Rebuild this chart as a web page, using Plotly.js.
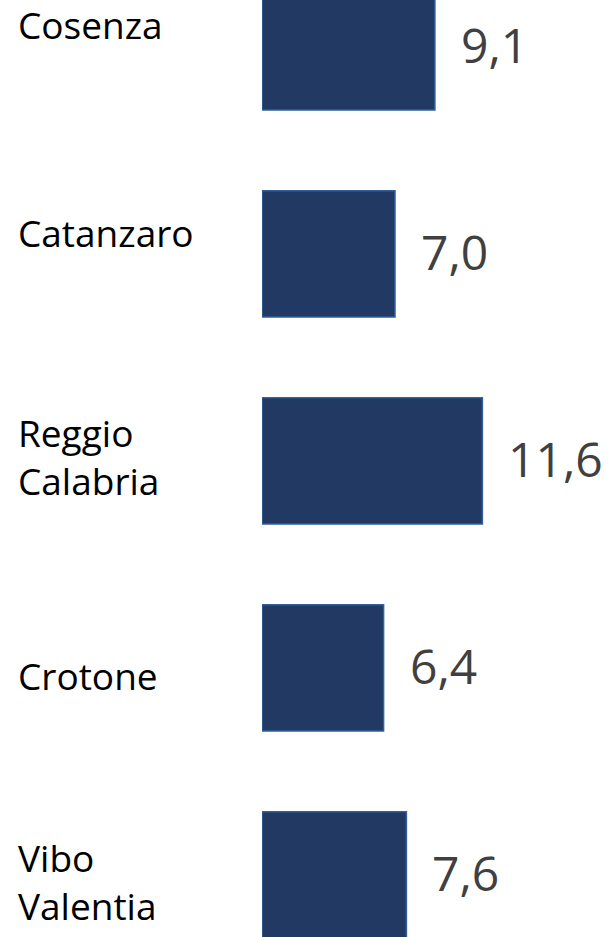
<!DOCTYPE html>
<html>
<head>
<meta charset="utf-8">
<script src="https://cdn.plot.ly/plotly-3.0.1.min.js"></script>
<style>
  html, body { margin: 0; padding: 0; background: #ffffff; overflow: hidden; }
  #chart { width: 613px; height: 937px; }
</style>
</head>
<body>
<div id="chart"></div>
<script>
// ---- data ----
var categories = ["Cosenza", "Catanzaro", "Reggio Calabria", "Crotone", "Vibo Valentia"];
var labelText  = ["Cosenza", "Catanzaro", "Reggio<br>Calabria", "Crotone", "Vibo<br>Valentia"];
var values     = [9.1, 7.0, 11.6, 6.4, 7.6];

// ---- styling / layout constants ----
var labelShift = [22, 21, 4, -8, -7];   // px vertical nudges of category labels
var FONT = "Open Sans, Lato, DejaVu Sans, sans-serif";

function fmt(v) { return v.toFixed(1).replace(".", ","); }

var trace = {
  type: "bar",
  orientation: "h",
  y: categories,
  x: values,
  width: 0.61,
  marker: { color: "#213963", line: { color: "#31609a", width: 1.5 } },
  hoverinfo: "skip"
};

var annotations = [];
for (var i = 0; i < categories.length; i++) {
  annotations.push({
    xref: "paper", yref: "y",
    x: -0.701, y: categories[i],
    xanchor: "left", yanchor: "middle", align: "left",
    text: labelText[i], showarrow: false,
    yshift: labelShift[i],
    font: { family: FONT, size: 37, color: "#000000" }
  });
  annotations.push({
    xref: "x", yref: "y",
    x: values[i], y: categories[i],
    xanchor: "left", yanchor: "middle",
    xshift: 24, yshift: 2,
    text: fmt(values[i]), showarrow: false,
    font: { family: FONT, size: 48, color: "#404040" }
  });
}

var layout = {
  width: 613, height: 937,
  margin: { l: 262, r: 0, t: 0, b: 0, pad: 0 },
  paper_bgcolor: "#ffffff", plot_bgcolor: "#ffffff",
  showlegend: false,
  xaxis: { range: [0, 351 / 19], visible: false, fixedrange: true },
  yaxis: { type: "category", range: [4.300, -0.227], visible: false, fixedrange: true },
  annotations: annotations
};

Plotly.newPlot("chart", [trace], layout, { displayModeBar: false, staticPlot: true });
</script>
</body>
</html>
